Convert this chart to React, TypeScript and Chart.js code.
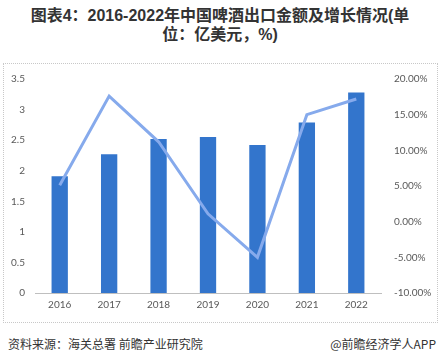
import React, { useEffect, useRef } from "react";
import { Chart, registerables } from "chart.js";

Chart.register(...registerables);

const years = ["2016", "2017", "2018", "2019", "2020", "2021", "2022"];
const exportValue = [1.91, 2.27, 2.52, 2.55, 2.42, 2.79, 3.28];
const growthRate = [5.1, 17.6, 11.2, 1.1, -5.0, 15.0, 17.2];
const titleText = "图表4：2016-2022年中国啤酒出口金额及增长情况(单位：亿美元，%)";
const sourceText = "资料来源：海关总署 前瞻产业研究院";
const brandText = "@前瞻经济学人APP";

const tickFont = { family: "Lato, 'Liberation Sans', sans-serif", size: 10 };

export default function App() {
  const ref = useRef<HTMLCanvasElement | null>(null);

  useEffect(() => {
    if (!ref.current) return;
    const chart = new Chart(ref.current, {
      type: "bar",
      data: {
        labels: years,
        datasets: [
          {
            type: "line",
            label: "增长率",
            data: growthRate,
            yAxisID: "y1",
            borderColor: "#86aaec",
            backgroundColor: "#86aaec",
            borderWidth: 3,
            pointRadius: 0,
            tension: 0,
            order: 0,
          },
          {
            type: "bar",
            label: "出口金额",
            data: exportValue,
            yAxisID: "y",
            backgroundColor: "#3375cc",
            categoryPercentage: 1,
            barPercentage: 0.33,
            order: 1,
          },
        ],
      },
      options: {
        animation: false,
        responsive: false,
        maintainAspectRatio: false,
        layout: { padding: { top: 17, left: 0, right: 0, bottom: 0 } },
        plugins: { legend: { display: false }, tooltip: { enabled: false }, title: { display: false } },
        scales: {
          x: {
            grid: { display: false, drawTicks: false },
            border: { display: true, color: "#bfbfbf", dash: [2, 2] },
            ticks: { color: "#595959", font: tickFont, padding: 6 },
            afterFit: (s: any) => { s.height = 29; },
          },
          y: {
            position: "left",
            min: 0,
            max: 3.5,
            grid: { display: false, drawTicks: false },
            border: { display: false },
            ticks: {
              stepSize: 0.5,
              color: "#595959",
              font: tickFont,
              padding: 10,
              callback: (v: any) => String(Number(v)),
            },
            afterFit: (s: any) => { s.width = 35; },
          },
          y1: {
            position: "right",
            min: -10,
            max: 20,
            grid: { display: false, drawTicks: false },
            border: { display: false },
            ticks: {
              stepSize: 5,
              color: "#595959",
              font: tickFont,
              padding: 13,
              callback: (v: any) => Number(v).toFixed(2) + "%",
            },
            afterFit: (s: any) => { s.width = 59; },
          },
        },
      },
    });
    return () => chart.destroy();
  }, []);

  return (
    <div style={{ position: "fixed", left: 0, top: 0, width: 440, height: 364, background: "#fff", fontFamily: "'Liberation Sans', 'Noto Sans CJK SC', sans-serif" }}>
      <div
        style={{
          position: "absolute",
          left: 22,
          top: 6,
          width: 396,
          textAlign: "center",
          fontWeight: "bold",
          fontSize: 16,
          lineHeight: "19px",
          color: "#333",
          fontFamily: "'Liberation Sans', 'Noto Sans CJK SC', sans-serif",
        }}
      >
        {titleText}
      </div>
      <div style={{ position: "absolute", left: 3, top: 63, width: 433, height: 258, border: "1px dotted #c8c8c8" }} />
      <canvas ref={ref} width={440} height={262} style={{ position: "absolute", left: 0, top: 60, width: 440, height: 262 }} />
      <div style={{ position: "absolute", left: 8, top: 335, fontSize: 12, color: "#333", fontFamily: "'Noto Sans CJK SC', sans-serif" }}>{sourceText}</div>
      <div style={{ position: "absolute", right: 4, top: 335, fontSize: 12, color: "#333", fontFamily: "'Noto Sans CJK SC', sans-serif" }}>{brandText}</div>
    </div>
  );
}
